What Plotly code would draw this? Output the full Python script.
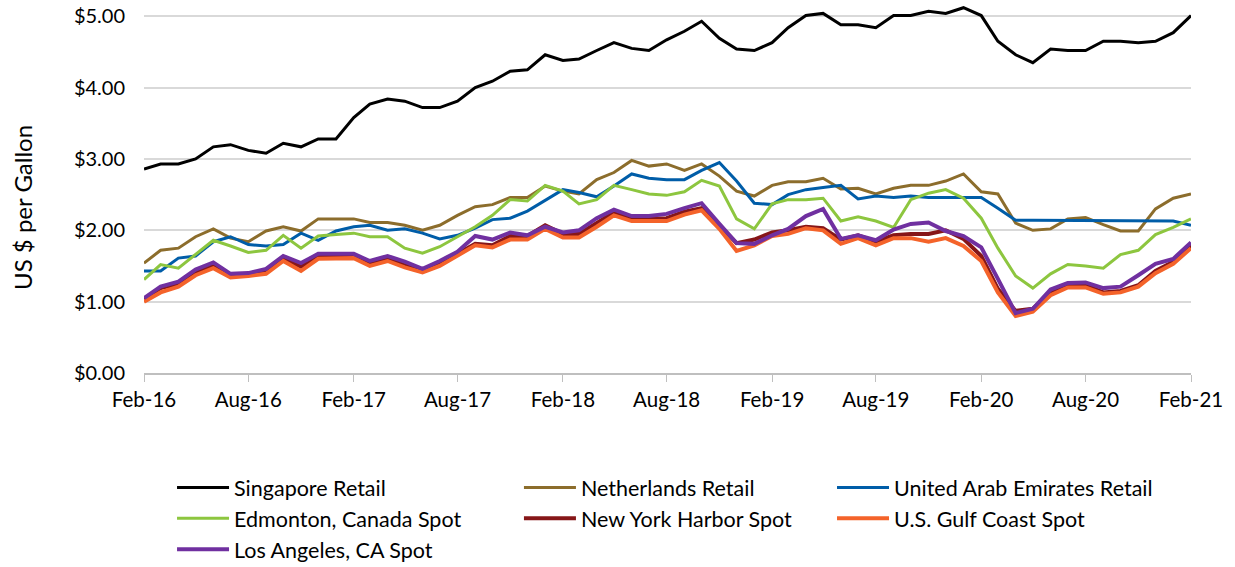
import pandas as pd
import plotly.graph_objects as go

months = pd.date_range("2016-02-01", "2021-02-01", freq="MS")

singapore = [2.86, 2.93, 2.93, 3.00, 3.17, 3.20, 3.12, 3.08, 3.22, 3.17, 3.28, 3.28, 3.58, 3.77, 3.84, 3.81,
             3.72, 3.72, 3.81, 4.00, 4.09, 4.23, 4.25, 4.46, 4.38, 4.40, 4.52, 4.63, 4.55, 4.52, 4.67, 4.79,
             4.93, 4.69, 4.54, 4.52, 4.63, 4.84, 5.01, 5.04, 4.88, 4.88, 4.84, 5.01, 5.01, 5.07, 5.04, 5.12,
             5.01, 4.65, 4.46, 4.35, 4.54, 4.52, 4.52, 4.65, 4.65, 4.63, 4.65, 4.77, 5.01]
netherlands = [1.54, 1.72, 1.75, 1.91, 2.02, 1.89, 1.84, 1.99, 2.05, 1.99, 2.16, 2.16, 2.16, 2.11, 2.11, 2.07,
               2.00, 2.07, 2.21, 2.33, 2.36, 2.46, 2.46, 2.62, 2.55, 2.51, 2.71, 2.81, 2.98, 2.90, 2.93, 2.84,
               2.93, 2.76, 2.55, 2.48, 2.63, 2.68, 2.68, 2.73, 2.58, 2.59, 2.51, 2.59, 2.63, 2.63, 2.69, 2.79,
               2.54, 2.51, 2.10, 2.00, 2.02, 2.16, 2.18, 2.08, 1.99, 1.99, 2.30, 2.45, 2.51]
uae = [1.43, 1.43, 1.61, 1.64, 1.84, 1.91, 1.80, 1.78, 1.80, 1.96, 1.86, 1.99, 2.05, 2.07, 2.00, 2.02,
       1.96, 1.88, 1.93, 2.03, 2.15, 2.17, 2.27, 2.42, 2.57, 2.53, 2.47, 2.62, 2.79, 2.73, 2.71, 2.71,
       2.84, 2.95, 2.69, 2.38, 2.36, 2.50, 2.57, 2.60, 2.63, 2.44, 2.48, 2.46, 2.48, 2.46, 2.46, 2.46,
       2.46, 2.31, 2.14, 2.14, 2.14, 2.14, 2.14, 2.14, 2.14, 2.14, 2.14, 2.13, 2.07]
edmonton = [1.31, 1.52, 1.47, 1.66, 1.86, 1.78, 1.69, 1.72, 1.93, 1.75, 1.92, 1.94, 1.96, 1.91, 1.91, 1.75,
            1.68, 1.77, 1.91, 2.05, 2.21, 2.43, 2.41, 2.63, 2.55, 2.37, 2.43, 2.63, 2.57, 2.51, 2.49, 2.54,
            2.70, 2.62, 2.16, 2.02, 2.37, 2.43, 2.43, 2.45, 2.13, 2.19, 2.13, 2.04, 2.43, 2.52, 2.57, 2.45,
            2.17, 1.75, 1.36, 1.19, 1.39, 1.52, 1.50, 1.47, 1.66, 1.72, 1.94, 2.04, 2.16]
new_york = [1.03, 1.19, 1.25, 1.41, 1.51, 1.36, 1.37, 1.42, 1.60, 1.49, 1.63, 1.63, 1.64, 1.53, 1.61, 1.51,
            1.45, 1.55, 1.67, 1.81, 1.79, 1.92, 1.92, 2.07, 1.95, 1.95, 2.11, 2.25, 2.16, 2.16, 2.17, 2.26,
            2.31, 2.07, 1.82, 1.87, 1.97, 2.00, 2.05, 2.03, 1.87, 1.93, 1.84, 1.93, 1.95, 1.95, 2.00, 1.88,
            1.64, 1.18, 0.87, 0.90, 1.13, 1.23, 1.23, 1.13, 1.15, 1.23, 1.43, 1.56, 1.79]
gulf_coast = [1.00, 1.13, 1.21, 1.37, 1.47, 1.34, 1.36, 1.39, 1.57, 1.43, 1.60, 1.60, 1.61, 1.50, 1.57, 1.48,
              1.41, 1.50, 1.64, 1.79, 1.76, 1.87, 1.87, 2.02, 1.90, 1.90, 2.05, 2.21, 2.13, 2.13, 2.13, 2.22,
              2.28, 2.02, 1.71, 1.79, 1.92, 1.95, 2.03, 2.00, 1.81, 1.89, 1.79, 1.89, 1.89, 1.84, 1.89, 1.78,
              1.57, 1.13, 0.80, 0.86, 1.09, 1.20, 1.20, 1.11, 1.13, 1.21, 1.40, 1.53, 1.75]
los_angeles = [1.05, 1.21, 1.28, 1.45, 1.55, 1.39, 1.40, 1.46, 1.64, 1.54, 1.67, 1.67, 1.67, 1.57, 1.64, 1.56,
               1.46, 1.57, 1.70, 1.92, 1.87, 1.97, 1.93, 2.05, 1.97, 2.00, 2.17, 2.29, 2.20, 2.20, 2.23, 2.31,
               2.38, 2.09, 1.82, 1.81, 1.93, 2.02, 2.20, 2.30, 1.88, 1.93, 1.86, 2.01, 2.09, 2.11, 1.99, 1.92,
               1.76, 1.32, 0.84, 0.90, 1.17, 1.26, 1.27, 1.19, 1.21, 1.37, 1.53, 1.60, 1.83]

series = [
    ("Singapore Retail", singapore, "#000000", 3, "legend"),
    ("Netherlands Retail", netherlands, "#8C6D2C", 3, "legend2"),
    ("United Arab Emirates Retail", uae, "#005DA8", 3, "legend3"),
    ("Edmonton, Canada Spot", edmonton, "#8DC63F", 3, "legend"),
    ("New York Harbor Spot", new_york, "#861618", 4, "legend2"),
    ("U.S. Gulf Coast Spot", gulf_coast, "#F4632A", 4, "legend3"),
    ("Los Angeles, CA Spot", los_angeles, "#7030A0", 4, "legend"),
]

fig = go.Figure()
for name, vals, color, width, lg in series:
    fig.add_trace(go.Scatter(x=months, y=vals, name=name, mode="lines",
                             line=dict(color=color, width=width), legend=lg))

font_family = "Lato"
leg_common = dict(orientation="v", yanchor="top", xanchor="left", y=0.1765,
                  xref="container", yref="container",
                  font=dict(family=font_family, size=21.5, color="#000000"),
                  itemwidth=52, tracegroupgap=0, bgcolor="rgba(0,0,0,0)", traceorder="normal")

fig.update_layout(
    width=1235, height=567,
    margin=dict(l=144, r=44, t=2, b=194, autoexpand=False),
    paper_bgcolor="white", plot_bgcolor="white",
    font=dict(family=font_family, size=20, color="#000000"),
    legend=dict(x=0.1393, **leg_common),
    legend2=dict(x=0.4202, **leg_common),
    legend3=dict(x=0.6737, **leg_common),
    xaxis=dict(
        range=[months[0], months[-1]], tickformat="%b-%y", dtick="M6", tick0="2016-02-01",
        showgrid=False, showline=True, linecolor="#BFBFBF", linewidth=2,
        ticks="outside", ticklen=7, tickcolor="#BFBFBF", tickwidth=1,
        tickfont=dict(family=font_family, size=20.5), zeroline=False,
    ),
    yaxis=dict(
        range=[0, 5.2], dtick=1, tick0=0, tickprefix="$", tickformat=".2f",
        showgrid=True, gridcolor="#D9D9D9", gridwidth=2, zeroline=False,
        showline=False, ticks="", ticklabelstandoff=18,
        tickfont=dict(family=font_family, size=20),
    ),
    annotations=[dict(
        text="US $ per Gallon", textangle=-90, showarrow=False,
        xref="paper", yref="paper", x=(22 - 144) / 1047, y=(373 - 208) / 371,
        xanchor="center", yanchor="middle",
        font=dict(family=font_family, size=24, color="#000000"),
    )],
)

fig.write_html("out.html", config={"displayModeBar": False},
               post_script="document.body.style.margin='0px';")
